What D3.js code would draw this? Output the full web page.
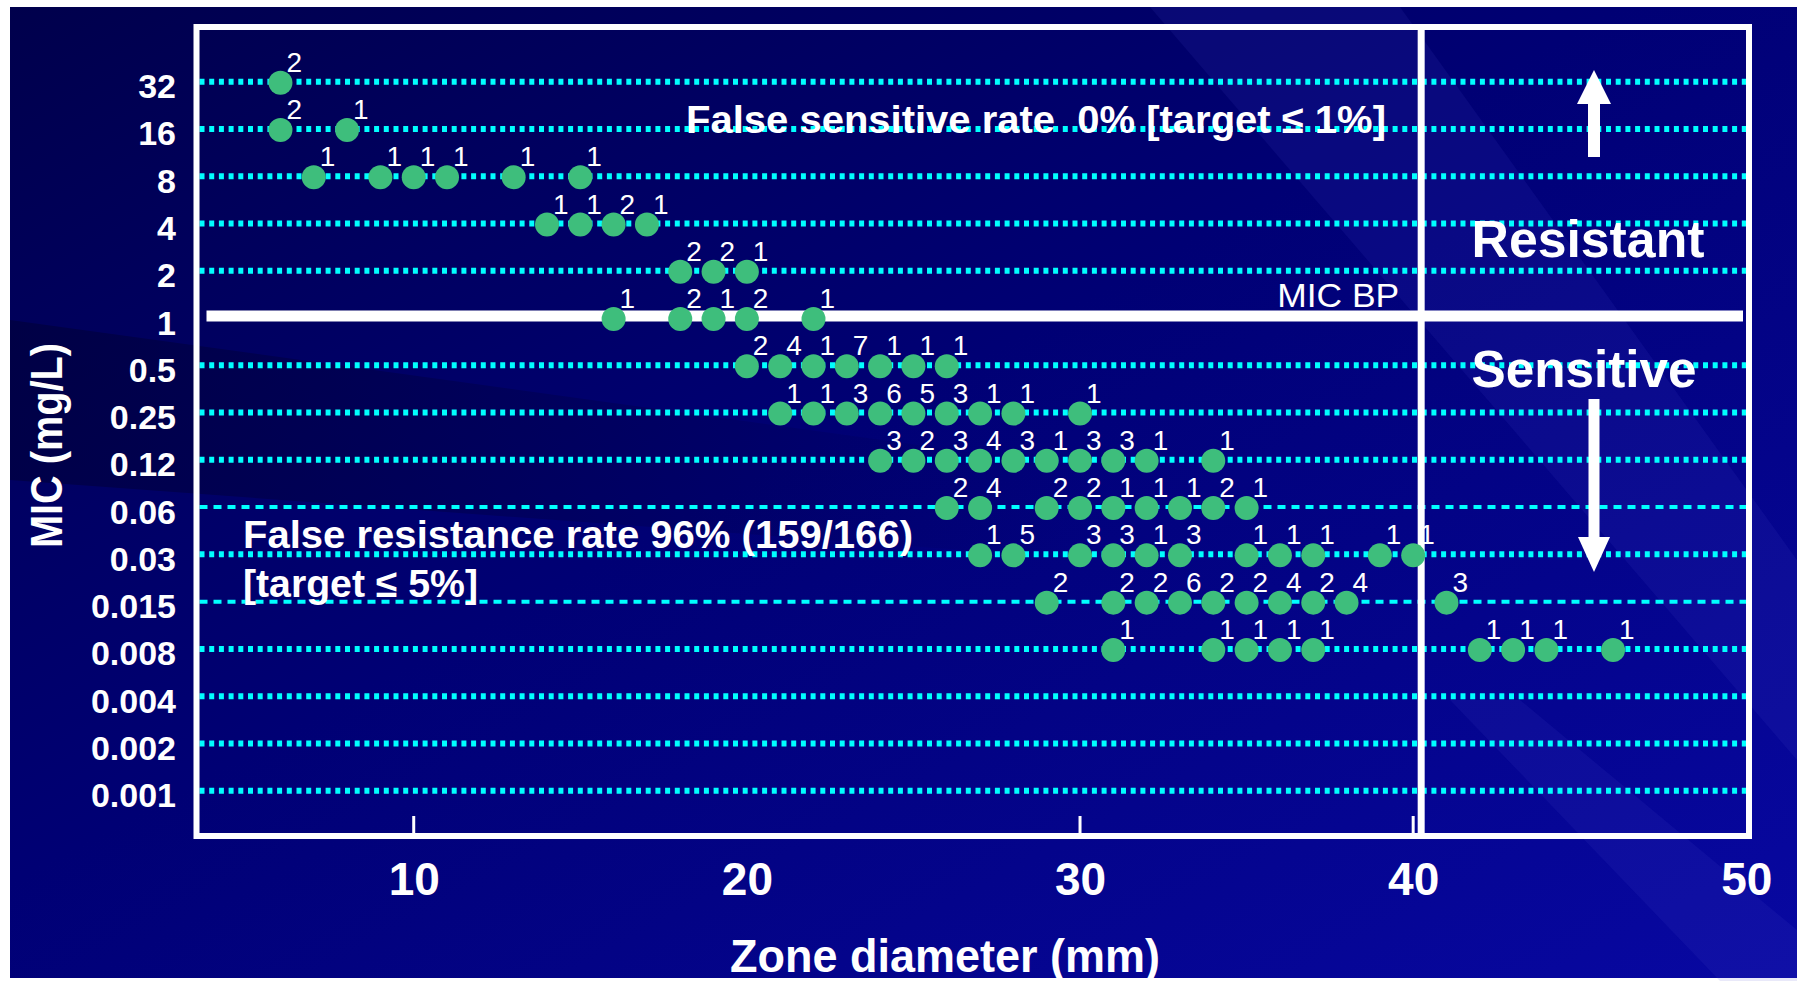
<!DOCTYPE html>
<html>
<head>
<meta charset="utf-8">
<script src="https://cdn.jsdelivr.net/npm/d3@7"></script>
<style>
  html, body { margin: 0; padding: 0; background: #fff; }
  svg { display: block; }
  text { font-family: "Liberation Sans", Arial, sans-serif; fill: #fff; white-space: pre; }
</style>
</head>
<body>
<script>
// MIC rows, top to bottom
var micLabels = ["32", "16", "8", "4", "2", "1", "0.5", "0.25", "0.12", "0.06", "0.03", "0.015", "0.008", "0.004", "0.002", "0.001"];
var xTickValues = [10, 20, 30, 40, 50];
var xTickMarks = [10, 30, 40];
var thinRows = ["0.06", "0.015"];
var micBreakpoint = "1";
var zoneBreakpoint = 40;

// zone diameters (mm) and isolate counts for each MIC row
var zonesByMic = {
  "32": [6],
  "16": [6, 8],
  "8": [7, 9, 10, 11, 13, 15],
  "4": [14, 15, 16, 17],
  "2": [18, 19, 20],
  "1": [16, 18, 19, 20, 22],
  "0.5": [20, 21, 22, 23, 24, 25, 26],
  "0.25": [21, 22, 23, 24, 25, 26, 27, 28, 30],
  "0.12": [24, 25, 26, 27, 28, 29, 30, 31, 32, 34],
  "0.06": [26, 27, 29, 30, 31, 32, 33, 34, 35],
  "0.03": [27, 28, 30, 31, 32, 33, 35, 36, 37, 39, 40],
  "0.015": [29, 31, 32, 33, 34, 35, 36, 37, 38, 41],
  "0.008": [31, 34, 35, 36, 37, 42, 43, 44, 46]
};
var countsByMic = {
  "32": [2],
  "16": [2, 1],
  "8": [1, 1, 1, 1, 1, 1],
  "4": [1, 1, 2, 1],
  "2": [2, 2, 1],
  "1": [1, 2, 1, 2, 1],
  "0.5": [2, 4, 1, 7, 1, 1, 1],
  "0.25": [1, 1, 3, 6, 5, 3, 1, 1, 1],
  "0.12": [3, 2, 3, 4, 3, 1, 3, 3, 1, 1],
  "0.06": [2, 4, 2, 2, 1, 1, 1, 2, 1],
  "0.03": [1, 5, 3, 3, 1, 3, 1, 1, 1, 1, 1],
  "0.015": [2, 2, 2, 6, 2, 2, 4, 2, 4, 3],
  "0.008": [1, 1, 1, 1, 1, 1, 1, 1, 1]
};

var width = 1797, height = 981;
var box = {left: 196.5, right: 1749, top: 27, bottom: 836};

var points = [];
micLabels.forEach(function(m) {
  (zonesByMic[m] || []).forEach(function(z, i) {
    points.push({mic: m, zone: z, count: countsByMic[m][i]});
  });
});

var svg = d3.select("body").append("svg")
  .attr("width", width)
  .attr("height", height);

// background
var defs = svg.append("defs");
var grad = defs.append("linearGradient").attr("id", "bg")
  .attr("x1", 0).attr("y1", 0).attr("x2", 1).attr("y2", 1);
grad.append("stop").attr("offset", "0%").attr("stop-color", "#00004c");
grad.append("stop").attr("offset", "45%").attr("stop-color", "#000074");
grad.append("stop").attr("offset", "100%").attr("stop-color", "#0808a2");

var shade = defs.append("linearGradient").attr("id", "shade")
  .attr("x1", 0).attr("y1", 0).attr("x2", 1).attr("y2", 0);
shade.append("stop").attr("offset", "0%").attr("stop-color", "#000030").attr("stop-opacity", 0.5);
shade.append("stop").attr("offset", "100%").attr("stop-color", "#000030").attr("stop-opacity", 0);

svg.append("rect").attr("x", 10).attr("y", 7)
  .attr("width", width - 10).attr("height", height - 10)
  .attr("fill", "url(#bg)");

// faint streaks
svg.append("polygon")
  .attr("points", [[10, 320], [1100, 470], [1100, 560], [10, 480]].join(" "))
  .attr("fill", "url(#shade)");
var streaks = [
  [[1150, 7], [1400, 7], [1797, 560], [1797, 760]],
  [[1450, 700], [1520, 700], [1797, 930], [1797, 981], [1720, 981]]
];
svg.selectAll(".streak").data(streaks).enter().append("polygon")
  .attr("points", function(d) { return d.join(" "); })
  .attr("fill", "#4a4ad0")
  .attr("opacity", 0.12);

var x = d3.scaleLinear()
  .domain([3.48, 50.08])
  .range([box.left, box.right]);
var y = d3.scalePoint()
  .domain(micLabels)
  .range([81.7, 790.7]);

// dotted grid rows
svg.selectAll(".row").data(micLabels.filter(function(m) { return m !== micBreakpoint; }))
  .enter().append("line")
  .attr("x1", box.left + 3).attr("x2", box.right - 3)
  .attr("y1", function(d) { return y(d); })
  .attr("y2", function(d) { return y(d); })
  .attr("stroke", "#00ffff")
  .attr("stroke-width", function(d) { return thinRows.indexOf(d) >= 0 ? 4 : 6; })
  .attr("stroke-dasharray", function(d) { return thinRows.indexOf(d) >= 0 ? "8,6" : "5,4.7"; });

// MIC breakpoint line
svg.append("line")
  .attr("x1", box.left + 10).attr("x2", box.right - 6)
  .attr("y1", y(micBreakpoint) - 2).attr("y2", y(micBreakpoint) - 2)
  .attr("stroke", "#fff").attr("stroke-width", 11);

// zone breakpoint line
var bpX = x(zoneBreakpoint) + 8;
svg.append("line")
  .attr("x1", bpX).attr("x2", bpX)
  .attr("y1", box.top).attr("y2", box.bottom)
  .attr("stroke", "#fff").attr("stroke-width", 7);

// plot frame
svg.append("rect")
  .attr("x", box.left).attr("y", box.top)
  .attr("width", box.right - box.left).attr("height", box.bottom - box.top)
  .attr("fill", "none").attr("stroke", "#fff").attr("stroke-width", 6);

// tick marks on bottom edge
svg.selectAll(".tickmark").data(xTickMarks).enter().append("line")
  .attr("x1", function(d) { return x(d); })
  .attr("x2", function(d) { return x(d); })
  .attr("y1", box.bottom).attr("y2", box.bottom - 20)
  .attr("stroke", "#fff").attr("stroke-width", 3);

// axes
var xAxis = svg.append("g")
  .attr("transform", "translate(0,862)")
  .call(d3.axisBottom(x).tickValues(xTickValues).tickSize(0).tickPadding(0).tickFormat(d3.format("d")));
xAxis.select(".domain").remove();
xAxis.selectAll("text")
  .attr("fill", "#fff")
  .style("font-size", "46px").style("font-weight", "bold")
  .style("font-family", "'Liberation Sans', Arial, sans-serif");

var yAxis = svg.append("g")
  .attr("transform", "translate(176,0)")
  .call(d3.axisLeft(y).tickSize(0).tickPadding(0));
yAxis.select(".domain").remove();
yAxis.selectAll("text")
  .attr("fill", "#fff")
  .attr("dy", "0.47em")
  .style("font-size", "34px").style("font-weight", "bold")
  .style("font-family", "'Liberation Sans', Arial, sans-serif");

// points
svg.selectAll(".pt").data(points).enter().append("circle")
  .attr("cx", function(d) { return x(d.zone); })
  .attr("cy", function(d) { return y(d.mic) + 1; })
  .attr("r", 12)
  .attr("fill", "#3ebe7c");

svg.selectAll(".cnt").data(points).enter().append("text")
  .attr("x", function(d) { return x(d.zone) + 6; })
  .attr("y", function(d) { return y(d.mic) - 10; })
  .style("font-family", "'Liberation Sans Narrow', 'Liberation Sans', Arial, sans-serif")
  .style("font-size", "28px")
  .text(function(d) { return d.count; });

// annotations
function label(txt, px, py, size, weight, anchor, len) {
  var t = svg.append("text")
    .attr("x", px).attr("y", py)
    .attr("text-anchor", anchor)
    .style("font-size", size + "px")
    .style("font-weight", weight)
    .text(txt);
  if (len) t.attr("textLength", len).attr("lengthAdjust", "spacingAndGlyphs");
  return t;
}
label("False sensitive rate  0% [target \u2264 1%]", 686, 133, 39, "bold", "start", 700);
label("False resistance rate 96% (159/166)", 243, 548, 39, "bold", "start", 670);
label("[target \u2264 5%]", 243, 597, 39, "bold", "start", 235);
label("Resistant", 1588, 257, 52, "bold", "middle", 233);
label("Sensitive", 1584, 387, 52, "bold", "middle", 225);
label("MIC BP", bpX - 22, 307, 34, "normal", "end", 122);
label("Zone diameter (mm)", 945, 972, 47, "bold", "middle", 430);
label("MIC (mg/L)", 0, 0, 44, "bold", "middle", 205)
  .attr("transform", "translate(62,445.5) rotate(-90)");

// arrows
var arrowX = 1594;
svg.append("rect").attr("x", arrowX - 6).attr("y", 100).attr("width", 12).attr("height", 57).attr("fill", "#fff");
svg.append("polygon").attr("points", [[arrowX - 17, 104], [arrowX + 17, 104], [arrowX, 70]].join(" ")).attr("fill", "#fff");
svg.append("rect").attr("x", arrowX - 5.5).attr("y", 399).attr("width", 11).attr("height", 142).attr("fill", "#fff");
svg.append("polygon").attr("points", [[arrowX - 16, 537], [arrowX + 16, 537], [arrowX, 572]].join(" ")).attr("fill", "#fff");
</script>
</body>
</html>
